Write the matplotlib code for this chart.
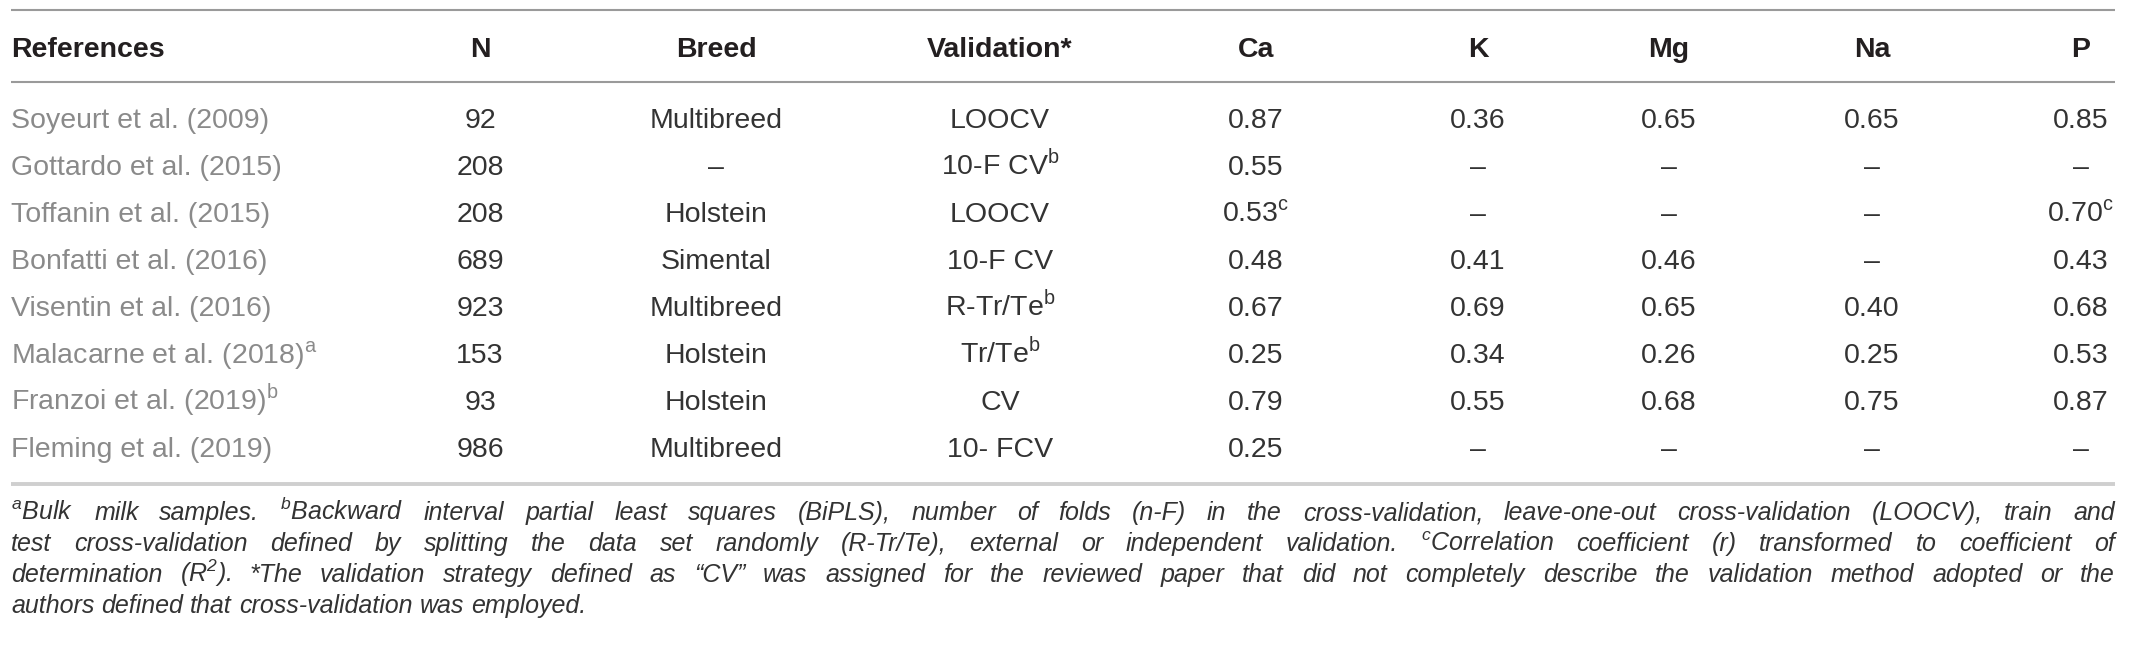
import matplotlib.pyplot as plt

plt.rcParams['font.family'] = ['Liberation Sans', 'DejaVu Sans']


def sup(s):
    return "$^\\mathregular{" + s + "}$"


headers = ["References", "N", "Breed", "Validation*", "Ca", "K", "Mg", "Na", "P"]
references = ["Soyeurt et al. (2009)", "Gottardo et al. (2015)", "Toffanin et al. (2015)",
              "Bonfatti et al. (2016)", "Visentin et al. (2016)",
              "Malacarne et al. (2018)" + sup("a"), "Franzoi et al. (2019)" + sup("b"),
              "Fleming et al. (2019)"]
n_samples = [92, 208, 208, 689, 923, 153, 93, 986]
breeds = ["Multibreed", "–", "Holstein", "Simental", "Multibreed", "Holstein", "Holstein", "Multibreed"]
validations = ["LOOCV", "10-F CV" + sup("b"), "LOOCV", "10-F CV", "R-Tr/Te" + sup("b"),
               "Tr/Te" + sup("b"), "CV", "10- FCV"]
ca = ["0.87", "0.55", "0.53" + sup("c"), "0.48", "0.67", "0.25", "0.79", "0.25"]
k = ["0.36", "–", "–", "0.41", "0.69", "0.34", "0.55", "–"]
mg = ["0.65", "–", "–", "0.46", "0.65", "0.26", "0.68", "–"]
na = ["0.65", "–", "–", "–", "0.40", "0.25", "0.75", "–"]
p = ["0.85", "–", "0.70" + sup("c"), "0.43", "0.68", "0.53", "0.87", "–"]

footnotes = [
    sup("a") + "Bulk milk samples. " + sup("b") + "Backward interval partial least squares (BiPLS), number of folds "
    "(n-F) in the cross-validation, leave-one-out cross-validation (LOOCV), train and",
    "test cross-validation defined by splitting the data set randomly (R-Tr/Te), external or independent "
    "validation. " + sup("c") + "Correlation coefficient (r) transformed to coefficient of",
    "determination (R" + sup("2") + "). *The validation strategy defined as “CV” was assigned for the reviewed "
    "paper that did not completely describe the validation method adopted or the",
    "authors defined that cross-validation was employed.",
]

W, H = 2130, 656
fig = plt.figure(figsize=(W / 100, H / 100), dpi=100)
ax = fig.add_axes([0, 0, 1, 1])
ax.set_xlim(0, W)
ax.set_ylim(H, 0)
ax.axis('off')

x_left, x_right = 11, 2115
col_x = [x_left, 480, 716, 1000, 1256, 1478, 1669, 1872, 2081]
fs = 20.5

# rules
ax.plot([x_left, x_right], [10, 10], color='#9a9a9a', lw=1.5, solid_capstyle='butt')
ax.plot([x_left, x_right], [82, 82], color='#9a9a9a', lw=1.5, solid_capstyle='butt')
ax.plot([x_left, x_right], [484, 484], color='#cfcfcf', lw=2.8, solid_capstyle='butt')

# header
for i, h in enumerate(headers):
    ax.text(col_x[i], 57, h, ha='left' if i == 0 else 'center', va='baseline',
            fontsize=fs, fontweight='bold', color='#231f20')

# body
columns = [references, [str(v) for v in n_samples], breeds, validations, ca, k, mg, na, p]
for r in range(len(references)):
    y = 128 + 47 * r
    for i, col in enumerate(columns):
        ax.text(col_x[i], y, col[r], ha='left' if i == 0 else 'center', va='baseline',
                fontsize=fs, color='#8a8a8a' if i == 0 else '#333333')

# footnotes, justified
fig.canvas.draw()
renderer = fig.canvas.get_renderer()
fn_fs = 18
for j, line in enumerate(footnotes):
    y = 520 + 31 * j
    words = line.split(" ")
    texts = [ax.text(0, y, w, ha='left', va='baseline', fontsize=fn_fs, style='italic', color='#333333')
             for w in words]
    widths = [t.get_window_extent(renderer).width for t in texts]
    if j < len(footnotes) - 1:
        gap = (x_right - x_left - sum(widths)) / (len(words) - 1)
    else:
        gap = fn_fs * 0.28 * 100 / 72
    x = x_left
    for t, w in zip(texts, widths):
        t.set_x(x)
        x += w + gap

fig.savefig("out.png", dpi=100)
